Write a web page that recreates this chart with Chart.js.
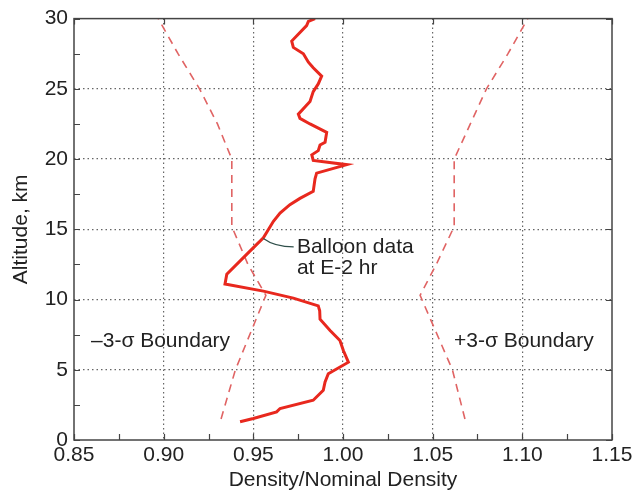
<!DOCTYPE html>
<html>
<head>
<meta charset="utf-8">
<script src="https://cdn.jsdelivr.net/npm/chart.js@4.4.1/dist/chart.umd.min.js"></script>
<style>
  body { margin: 0; background: #fff; }
  canvas { display: block; }
</style>
</head>
<body>
<canvas id="chart" width="636" height="494"></canvas>
<script>
// balloon profile: altitude (km) and density ratio
const balloonAlt = [1.3, 1.53, 2.0, 2.24, 2.83, 3.54, 4.13, 4.72, 5.54, 6.37, 7.08, 7.8, 8.6, 9.2, 9.55, 10.1, 10.6, 11.1, 11.8, 13.45, 14.4, 15.57, 16.15, 16.75, 17.2, 17.7, 18.6, 19.0, 19.6, 19.9, 20.3, 20.6, 21.0, 21.2, 21.9, 22.5, 22.9, 23.2, 24.1, 24.8, 25.35, 25.9, 26.5, 26.9, 27.5, 27.95, 28.4, 29.5, 29.8, 30];
const balloonDen = [0.9426, 0.950, 0.963, 0.9649, 0.9834, 0.989, 0.990, 0.9918, 1.003, 1.0002, 0.9983, 0.9928, 0.9872, 0.9870, 0.9862, 0.9723, 0.9556, 0.9342, 0.9352, 0.9481, 0.9556, 0.9612, 0.9649, 0.9704, 0.976, 0.9834, 0.9844, 0.9853, 1.0021, 0.9834, 0.9826, 0.9862, 0.9872, 0.990, 0.9909, 0.9816, 0.976, 0.9751, 0.9816, 0.9834, 0.9862, 0.9881, 0.9834, 0.9807, 0.9779, 0.9723, 0.9714, 0.9797, 0.9807, 0.9844];

// 3-sigma boundaries
const boundAlt = [1.5, 5, 10.3, 12.5, 15.2, 20, 22.5, 25, 27.5, 30];
const lowerDen = [0.932, 0.940, 0.957, 0.947, 0.938, 0.938, 0.930, 0.920, 0.908, 0.897];
const upperDen = [1.068, 1.061, 1.043, 1.052, 1.062, 1.062, 1.071, 1.080, 1.092, 1.103];

const xTicks = [0.85, 0.90, 0.95, 1.00, 1.05, 1.10, 1.15];
const yTicks = [0, 5, 10, 15, 20, 25, 30];

const FONT = 'Liberation Sans, Arial, Helvetica, sans-serif';

function pts(xs, ys) {
  return xs.map((x, i) => ({ x: x, y: ys[i] }));
}
function isMajor(v, step) {
  return Math.abs(Math.round(v / step) * step - v) < 1e-6;
}

const frameTicks = {
  id: 'frameTicks',
  afterDatasetsDraw(chart) {
    const { ctx, chartArea: a, scales: { x, y } } = chart;
    ctx.save();
    ctx.strokeStyle = '#444';
    ctx.lineWidth = 1.5;
    ctx.strokeRect(a.left, a.top, a.right - a.left, a.bottom - a.top);
    ctx.lineWidth = 1.2;
    ctx.beginPath();
    // bottom ticks every 0.025, top ticks at majors
    for (let v = 0.85; v <= 1.1501; v += 0.025) {
      const px = Math.round(x.getPixelForValue(v)) + 0.5;
      ctx.moveTo(px, a.bottom); ctx.lineTo(px, a.bottom - 6);
      if (isMajor(v, 0.05)) { ctx.moveTo(px, a.top); ctx.lineTo(px, a.top + 6); }
    }
    for (let v = 0; v <= 30.01; v += 2.5) {
      const py = Math.round(y.getPixelForValue(v)) + 0.5;
      ctx.moveTo(a.left, py); ctx.lineTo(a.left + 6, py);
      if (isMajor(v, 5)) { ctx.moveTo(a.right, py); ctx.lineTo(a.right - 6, py); }
    }
    ctx.stroke();

    // annotations
    ctx.fillStyle = '#222';
    ctx.font = '21px ' + FONT;
    ctx.textBaseline = 'middle';
    ctx.textAlign = 'left';
    ctx.fillText('Balloon data', x.getPixelForValue(0.9743), y.getPixelForValue(13.75));
    ctx.fillText('at E-2 hr', x.getPixelForValue(0.9743), y.getPixelForValue(12.2));
    ctx.fillText('\u20133-\u03c3 Boundary', x.getPixelForValue(0.8595), y.getPixelForValue(7.0));
    ctx.fillText('+3-\u03c3 Boundary', x.getPixelForValue(1.0619), y.getPixelForValue(7.0));

    // leader line
    ctx.strokeStyle = '#2f4f4a';
    ctx.lineWidth = 1.2;
    ctx.beginPath();
    ctx.moveTo(x.getPixelForValue(0.9556), y.getPixelForValue(14.35));
    ctx.quadraticCurveTo(x.getPixelForValue(0.962), y.getPixelForValue(13.75),
                         x.getPixelForValue(0.9725), y.getPixelForValue(13.75));
    ctx.stroke();
    ctx.restore();
  }
};

new Chart(document.getElementById('chart'), {
  type: 'scatter',
  data: {
    datasets: [
      {
        label: '-3-sigma',
        data: pts(lowerDen, boundAlt),
        showLine: true,
        borderColor: '#e06464',
        borderWidth: 1.6,
        borderDash: [8, 6],
        pointRadius: 0,
        order: 2
      },
      {
        label: '+3-sigma',
        data: pts(upperDen, boundAlt),
        showLine: true,
        borderColor: '#e06464',
        borderWidth: 1.6,
        borderDash: [8, 6],
        pointRadius: 0,
        order: 2
      },
      {
        label: 'Balloon data',
        data: pts(balloonDen, balloonAlt),
        showLine: true,
        borderColor: '#e8281e',
        borderWidth: 3,
        pointRadius: 0,
        order: 1
      }
    ]
  },
  options: {
    responsive: false,
    animation: false,
    layout: { padding: { left: 0, right: 24, top: 16, bottom: 0 } },
    plugins: {
      legend: { display: false },
      tooltip: { enabled: false }
    },
    scales: {
      x: {
        type: 'linear',
        min: 0.85,
        max: 1.15,
        afterBuildTicks(scale) {
          const t = [];
          for (let v = 0.85; v <= 1.1501; v += 0.025) t.push({ value: +v.toFixed(3) });
          scale.ticks = t;
        },
        afterFit(scale) { scale.height = 54; },
        ticks: {
          font: { family: FONT, size: 21 },
          color: '#222',
          padding: 3,
          maxRotation: 0,
          autoSkip: false,
          callback: (v) => isMajor(v, 0.05) ? v.toFixed(2) : ''
        },
        grid: {
          drawTicks: false,
          lineWidth: 1.2,
          color: (c) => (c.tick && isMajor(c.tick.value, 0.05) && c.tick.value > 0.851 && c.tick.value < 1.149) ? '#666' : 'rgba(0,0,0,0)'
        },
        border: { display: false, dash: [1.5, 3] },
        title: {
          display: true,
          text: 'Density/Nominal Density',
          font: { family: FONT, size: 21 },
          color: '#222',
          padding: { top: 0, bottom: 1 }
        }
      },
      y: {
        type: 'linear',
        min: 0,
        max: 30,
        afterBuildTicks(scale) {
          scale.ticks = yTicks.map(v => ({ value: v }));
        },
        afterFit(scale) { scale.width = 74; },
        ticks: {
          font: { family: FONT, size: 21 },
          color: '#222',
          padding: 6
        },
        grid: {
          drawTicks: false,
          lineWidth: 1.2,
          color: (c) => (c.tick && c.tick.value > 0 && c.tick.value < 30) ? '#666' : 'rgba(0,0,0,0)'
        },
        border: { display: false, dash: [1.5, 3] },
        title: {
          display: true,
          text: 'Altitude, km',
          font: { family: FONT, size: 21 },
          color: '#222',
          padding: { top: 9, bottom: 0 }
        }
      }
    }
  },
  plugins: [frameTicks]
});
</script>
</body>
</html>
